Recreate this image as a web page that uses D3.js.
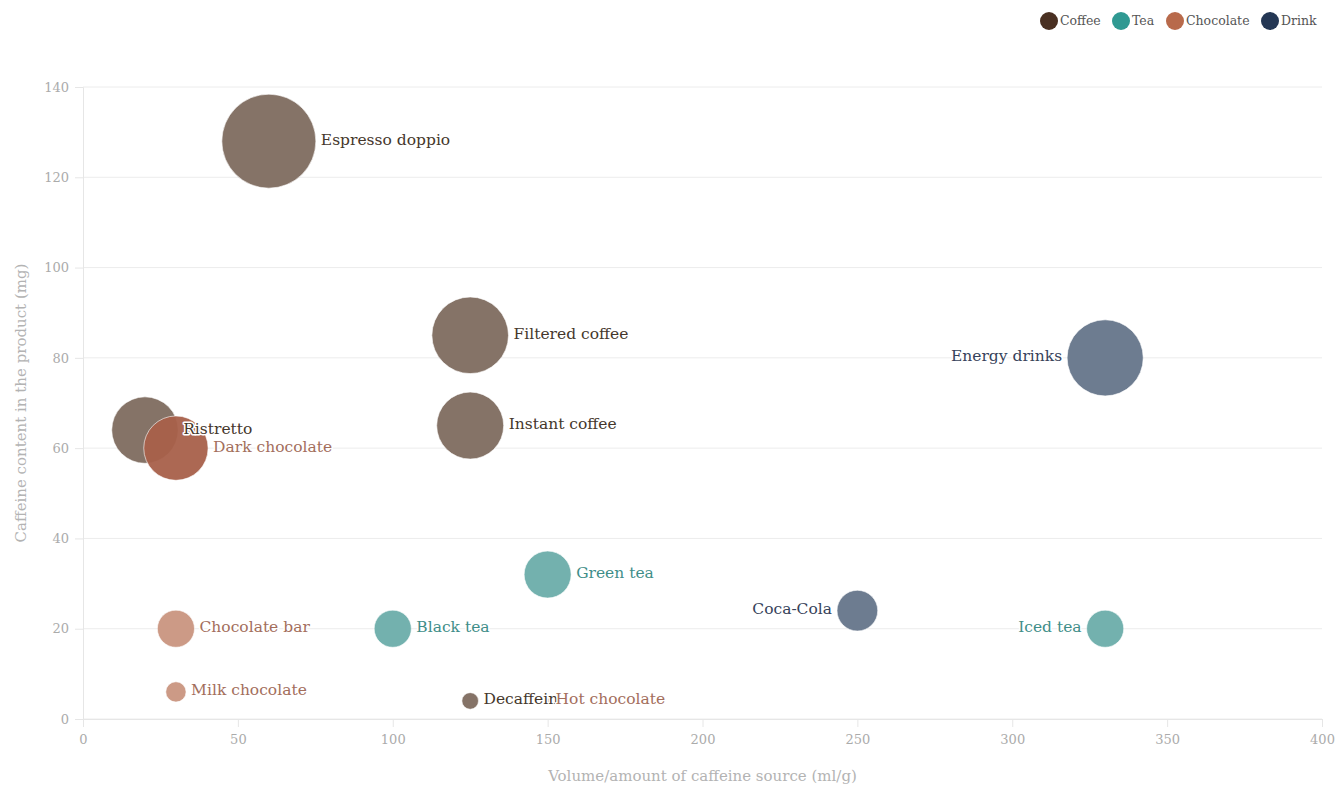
<!DOCTYPE html>
<html>
<head>
<meta charset="utf-8">
<script src="https://cdn.jsdelivr.net/npm/d3@7"></script>
<style>
  body { margin: 0; background: #fff; }
  svg text { font-family: "DejaVu Serif", "Liberation Serif", serif; }
</style>
</head>
<body>
<div id="chart"></div>
<script>
// data
var names = ["Espresso doppio", "Filtered coffee", "Instant coffee", "Ristretto", "Decaffein",
             "Dark chocolate", "Chocolate bar", "Milk chocolate", "Hot chocolate",
             "Green tea", "Black tea", "Iced tea",
             "Energy drinks", "Coca-Cola"];
var groups = ["Coffee", "Coffee", "Coffee", "Coffee", "Coffee",
              "Chocolate", "Chocolate", "Chocolate", "Chocolate",
              "Tea", "Tea", "Tea",
              "Drink", "Drink"];
var volume = [60, 125, 125, 20, 125, 30, 30, 30, 150, 150, 100, 330, 330, 250];
var caffeine = [128, 85, 65, 64, 4, 60, 20, 6, 4, 32, 20, 20, 80, 24];
var bubbleSize = [128, 85, 65, 64, 4, 60, 20, 6, 0.5, 32, 20, 20, 84, 24];
var categories = ["Coffee", "Tea", "Chocolate", "Drink"];
var xTicks = [0, 50, 100, 150, 200, 250, 300, 350, 400];
var yTicks = [0, 20, 40, 60, 80, 100, 120, 140];

// styling
var legendColor = { Coffee: "#4a3022", Tea: "#2f9992", Chocolate: "#b86a4b", Drink: "#243754" };
var bubbleColor = { Coffee: "#7e6c5f", Tea: "#6badaa", Chocolate: "#c9957f", Drink: "#65758a" };
var labelColor = { Coffee: "#45372c", Tea: "#3f8e89", Chocolate: "#a36e5c", Drink: "#36425a" };
var darkerFill = { "Dark chocolate": "#a8604a" };
var leftLabels = ["Energy drinks", "Coca-Cola", "Iced tea"];

var W = 1336, H = 785;
var margin = { left: 83, right: 14, top: 87, bottom: 66 };

var svg = d3.select("#chart").append("svg")
    .attr("width", W)
    .attr("height", H);

var x = d3.scaleLinear().domain([0, 400]).range([margin.left, W - margin.right]);
var y = d3.scaleLinear().domain([0, 140]).range([H - margin.bottom, margin.top]);
var r = d3.scaleSqrt().domain([0, 128]).range([0, 47]);

var points = names.map(function (n, i) {
    return { name: n, group: groups[i], vol: volume[i], caf: caffeine[i], size: bubbleSize[i] };
});

// grid
svg.append("g")
    .selectAll("line")
    .data(yTicks)
    .enter().append("line")
    .attr("x1", x(0)).attr("x2", x(400))
    .attr("y1", function (d) { return y(d); })
    .attr("y2", function (d) { return y(d); })
    .attr("stroke", "#ececec");

// axes
var xAxis = svg.append("g")
    .attr("transform", "translate(0," + y(0) + ")")
    .call(d3.axisBottom(x).tickValues(xTicks).tickSize(8).tickPadding(8));
var yAxis = svg.append("g")
    .attr("transform", "translate(" + x(0) + ",0)")
    .call(d3.axisLeft(y).tickValues(yTicks).tickSize(8).tickPadding(6));

[xAxis, yAxis].forEach(function (a) {
    a.select(".domain").attr("stroke", "#e6e6e6");
    a.selectAll(".tick line").attr("stroke", "#e6e6e6");
    a.selectAll(".tick text")
        .attr("fill", "#ababab")
        .style("font-size", "13px")
        .style("font-family", "\"DejaVu Serif\", serif");
});

svg.append("text")
    .attr("x", (x(0) + x(400)) / 2)
    .attr("y", 781)
    .attr("text-anchor", "middle")
    .attr("fill", "#b3b3b3")
    .style("font-size", "15px")
    .text("Volume/amount of caffeine source (ml/g)");

svg.append("text")
    .attr("transform", "translate(26," + ((y(0) + y(140)) / 2) + ") rotate(-90)")
    .attr("text-anchor", "middle")
    .attr("fill", "#b3b3b3")
    .style("font-size", "15px")
    .text("Caffeine content in the product (mg)");

// bubbles
svg.append("g")
    .selectAll("circle")
    .data(points)
    .enter().append("circle")
    .attr("cx", function (d) { return x(d.vol); })
    .attr("cy", function (d) { return y(d.caf); })
    .attr("r", function (d) { return r(d.size); })
    .attr("fill", function (d) { return darkerFill[d.name] || bubbleColor[d.group]; })
    .attr("fill-opacity", 0.95)
    .attr("stroke", "#fff")
    .attr("stroke-opacity", 0.6)
    .attr("stroke-width", 1);

// labels
svg.append("g")
    .selectAll("text")
    .data(points)
    .enter().append("text")
    .attr("x", function (d) {
        var off = r(d.size) + 5;
        return leftLabels.indexOf(d.name) >= 0 ? x(d.vol) - off : x(d.vol) + off;
    })
    .attr("y", function (d) { return y(d.caf) - 2; })
    .attr("dy", "0.35em")
    .attr("text-anchor", function (d) { return leftLabels.indexOf(d.name) >= 0 ? "end" : "start"; })
    .attr("fill", function (d) { return labelColor[d.group]; })
    .attr("stroke", "#fff")
    .attr("stroke-width", 3)
    .attr("stroke-linejoin", "round")
    .attr("paint-order", "stroke")
    .style("font-size", "15.5px")
    .text(function (d) { return d.name; });

// legend
var legendX = [1049, 1121, 1175, 1270];
var legend = svg.append("g")
    .selectAll("g")
    .data(categories)
    .enter().append("g")
    .attr("transform", function (d, i) { return "translate(" + legendX[i] + ",21)"; });
legend.append("circle")
    .attr("r", 9)
    .attr("fill", function (d) { return legendColor[d]; });
legend.append("text")
    .attr("x", 11)
    .attr("dy", "0.35em")
    .attr("fill", "#555")
    .style("font-size", "12.5px")
    .text(function (d) { return d; });
</script>
</body>
</html>
